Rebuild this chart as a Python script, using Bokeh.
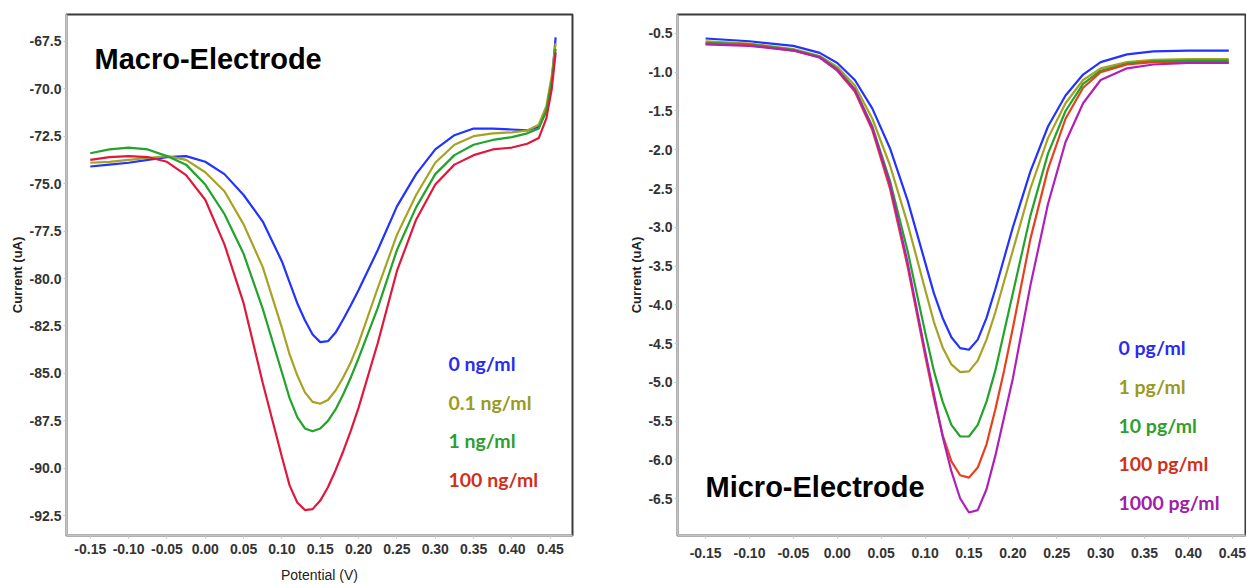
from bokeh.plotting import figure
from bokeh.layouts import row
from bokeh.models import Label, FixedTicker, NumeralTickFormatter, Range1d
from bokeh.embed import file_html
from bokeh.resources import INLINE

# ---------------- data: Macro-Electrode ----------------
macro_x = [-0.15, -0.125, -0.10, -0.075, -0.05, -0.025, 0.00, 0.025, 0.05, 0.075, 0.10, 0.11, 0.12,
           0.13, 0.14, 0.15, 0.16, 0.17, 0.18, 0.19, 0.20, 0.225, 0.25, 0.275, 0.30, 0.325, 0.35, 0.375,
           0.40, 0.42, 0.435, 0.445, 0.452, 0.457]
macro_0 = [-74.1, -74.0, -73.9, -73.75, -73.6, -73.55, -73.85, -74.5, -75.6, -77.0, -79.1, -80.2, -81.3,
           -82.2, -82.95, -83.35, -83.3, -82.85, -82.15, -81.4, -80.6, -78.5, -76.2, -74.5, -73.2, -72.45,
           -72.1, -72.1, -72.15, -72.2, -72.0, -71.15, -69.6, -67.3]
macro_01 = [-73.9, -73.85, -73.75, -73.65, -73.55, -73.75, -74.4, -75.4, -77.15, -79.4, -82.6, -84.0, -85.1,
            -86.0, -86.5, -86.6, -86.4, -85.9, -85.2, -84.4, -83.4, -80.5, -77.7, -75.6, -73.9, -72.95,
            -72.5, -72.35, -72.3, -72.2, -71.9, -70.9, -69.3, -67.6]
macro_1 = [-73.4, -73.2, -73.1, -73.2, -73.55, -74.0, -75.05, -76.6, -78.7, -81.6, -84.95, -86.3, -87.3,
           -87.9, -88.05, -87.9, -87.5, -86.9, -86.1, -85.2, -84.2, -81.55, -78.5, -76.25, -74.5, -73.5,
           -72.95, -72.7, -72.55, -72.35, -72.1, -71.15, -69.6, -67.9]
macro_100 = [-73.75, -73.6, -73.55, -73.6, -73.85, -74.55, -75.85, -78.2, -81.3, -85.5, -89.4, -90.9, -91.8,
             -92.2, -92.15, -91.7, -91.0, -90.1, -89.1, -88.0, -86.8, -83.4, -79.6, -76.9, -75.05, -74.0,
             -73.5, -73.2, -73.1, -72.9, -72.6, -71.55, -70.0, -68.1]
macro_labels = ["0 ng/ml", "0.1 ng/ml", "1 ng/ml", "100 ng/ml"]
macro_line_colors = ["#2233ff", "#a8a224", "#22a32a", "#e0183c"]
macro_text_colors = ["#2b2bf0", "#9a9a1e", "#2e9e2e", "#d0301a"]
macro_xticks = [-0.15, -0.10, -0.05, 0.00, 0.05, 0.10, 0.15, 0.20, 0.25, 0.30, 0.35, 0.40, 0.45]
macro_yticks = [-92.5, -90.0, -87.5, -85.0, -82.5, -80.0, -77.5, -75.0, -72.5, -70.0, -67.5]

# ---------------- data: Micro-Electrode ----------------
micro_x = [-0.15, -0.10, -0.05, -0.02, 0.0, 0.02, 0.04, 0.06, 0.08, 0.10, 0.11, 0.12, 0.13, 0.14, 0.15,
           0.16, 0.17, 0.18, 0.19, 0.20, 0.22, 0.24, 0.26, 0.28, 0.30, 0.33, 0.36, 0.40, 0.446]
micro_0 = [-0.565, -0.6, -0.66, -0.75, -0.88, -1.1, -1.47, -1.98, -2.65, -3.45, -3.85, -4.17, -4.42, -4.56,
           -4.58, -4.45, -4.17, -3.8, -3.4, -3.0, -2.28, -1.7, -1.3, -1.03, -0.87, -0.77, -0.73, -0.72, -0.72]
micro_1 = [-0.6, -0.63, -0.7, -0.79, -0.93, -1.17, -1.6, -2.2, -2.95, -3.8, -4.22, -4.55, -4.77, -4.87,
           -4.86, -4.72, -4.45, -4.1, -3.7, -3.3, -2.5, -1.85, -1.4, -1.1, -0.95, -0.87, -0.84, -0.83, -0.83]
micro_10 = [-0.62, -0.64, -0.71, -0.8, -0.96, -1.22, -1.7, -2.4, -3.3, -4.35, -4.85, -5.25, -5.55, -5.7,
            -5.7, -5.55, -5.25, -4.85, -4.35, -3.85, -2.85, -2.05, -1.5, -1.15, -0.98, -0.89, -0.86, -0.85, -0.85]
micro_100 = [-0.63, -0.65, -0.72, -0.81, -0.98, -1.25, -1.75, -2.5, -3.5, -4.65, -5.2, -5.68, -6.02, -6.2,
             -6.23, -6.1, -5.8, -5.35, -4.85, -4.3, -3.15, -2.25, -1.6, -1.2, -1.0, -0.9, -0.87, -0.87, -0.87]
micro_1000 = [-0.64, -0.66, -0.72, -0.81, -0.97, -1.23, -1.72, -2.45, -3.45, -4.6, -5.15, -5.7, -6.15, -6.5,
              -6.68, -6.65, -6.38, -5.95, -5.45, -4.95, -3.75, -2.7, -1.9, -1.4, -1.1, -0.95, -0.9, -0.88, -0.88]
micro_labels = ["0 pg/ml", "1 pg/ml", "10 pg/ml", "100 pg/ml", "1000 pg/ml"]
micro_line_colors = ["#2233ff", "#a8a224", "#22a32a", "#e8401a", "#b020b8"]
micro_text_colors = ["#2b2bf0", "#9a9a1e", "#2e9e2e", "#d0301a", "#a020a8"]
micro_xticks = [-0.15, -0.10, -0.05, 0.00, 0.05, 0.10, 0.15, 0.20, 0.25, 0.30, 0.35, 0.40, 0.45]
micro_yticks = [-6.5, -6.0, -5.5, -5.0, -4.5, -4.0, -3.5, -3.0, -2.5, -2.0, -1.5, -1.0, -0.5]

TICK_FONT = "Liberation Sans"
LEG_FONT = "Lato"


def style(p, xticks, yticks, xlabel, x_standoff, ylabel_standoff):
    p.xgrid.visible = False
    p.ygrid.visible = False
    p.outline_line_color = "#3a3a3a"
    p.outline_line_width = 2
    p.xaxis.ticker = FixedTicker(ticks=xticks)
    p.yaxis.ticker = FixedTicker(ticks=yticks)
    p.xaxis.formatter = NumeralTickFormatter(format="0.00")
    p.yaxis.formatter = NumeralTickFormatter(format="0.0")
    for ax in (p.xaxis[0], p.yaxis[0]):
        ax.axis_line_color = "#c4c4c4"
        ax.axis_line_width = 2
        ax.major_tick_line_color = "#c4c4c4"
        ax.major_tick_out = 3
        ax.major_tick_in = 0
        ax.minor_tick_line_color = None
        ax.major_label_text_font = TICK_FONT
        ax.major_label_text_font_size = "14px"
        ax.major_label_text_font_style = "bold"
        ax.major_label_text_color = "#333333"
        ax.major_label_standoff = 2
    p.xaxis.major_label_standoff = x_standoff
    p.yaxis.axis_label = "Current (uA)"
    p.yaxis.axis_label_text_font = "Liberation Sans"
    p.yaxis.axis_label_text_font_size = "13px"
    p.yaxis.axis_label_text_font_style = "bold"
    p.yaxis.axis_label_text_color = "#222222"
    p.yaxis.axis_label_standoff = ylabel_standoff
    if xlabel:
        p.xaxis.axis_label = xlabel
        p.xaxis.axis_label_text_font = "Liberation Sans"
        p.xaxis.axis_label_text_font_size = "14px"
        p.xaxis.axis_label_text_font_style = "normal"
        p.xaxis.axis_label_text_color = "#222222"
        p.xaxis.axis_label_standoff = 10


# ---------------- left figure ----------------
p1 = figure(width=620, height=585, output_backend="svg", toolbar_location=None,
            x_range=Range1d(-0.181, 0.479), y_range=Range1d(-93.54, -66.09),
            min_border_left=66, min_border_right=48, min_border_top=13, min_border_bottom=45)
style(p1, macro_xticks, macro_yticks, "Potential (V)", 5, 2)
for ys, c in zip([macro_0, macro_01, macro_1, macro_100], macro_line_colors):
    p1.line(macro_x, ys, line_color=c, line_width=2.2)
p1.add_layout(Label(x=28, y=477, x_units="screen", y_units="screen", text="Macro-Electrode",
                    text_font="Liberation Sans", text_font_style="bold", text_font_size="29px",
                    text_baseline="middle", text_color="#000000"))
for i, (t, c) in enumerate(zip(macro_labels, macro_text_colors)):
    p1.add_layout(Label(x=382, y=172 - i * 38.5, x_units="screen", y_units="screen", text=t,
                        text_font=LEG_FONT, text_font_style="bold", text_font_size="19.5px",
                        text_baseline="middle", text_color=c))

# ---------------- right figure ----------------
p2 = figure(width=626, height=585, output_backend="svg", toolbar_location=None,
            x_range=Range1d(-0.182, 0.465), y_range=Range1d(-6.977, -0.255),
            min_border_left=57, min_border_right=1, min_border_top=14, min_border_bottom=49)
style(p2, micro_xticks, micro_yticks, None, 9, 1)
for ys, c in zip([micro_0, micro_1, micro_10, micro_100, micro_1000], micro_line_colors):
    p2.line(micro_x, ys, line_color=c, line_width=2.2)
p2.add_layout(Label(x=28, y=49, x_units="screen", y_units="screen", text="Micro-Electrode",
                    text_font="Liberation Sans", text_font_style="bold", text_font_size="29px",
                    text_baseline="middle", text_color="#000000"))
for i, (t, c) in enumerate(zip(micro_labels, micro_text_colors)):
    p2.add_layout(Label(x=441, y=188 - i * 38.8, x_units="screen", y_units="screen", text=t,
                        text_font=LEG_FONT, text_font_style="bold", text_font_size="19.5px",
                        text_baseline="middle", text_color=c))

layout = row(p1, p2)
open("out.html", "w").write(file_html(layout, INLINE))
